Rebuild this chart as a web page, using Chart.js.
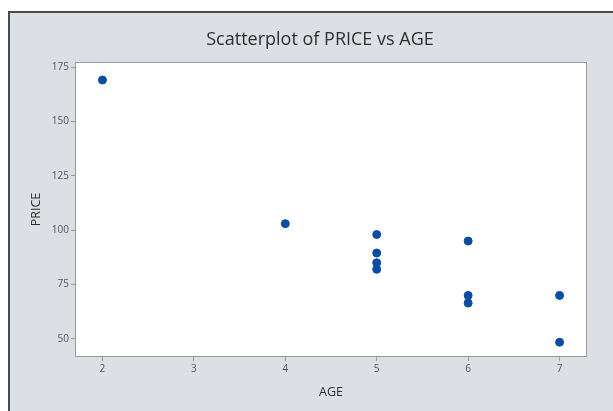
<!DOCTYPE html>
<html>
<head>
<meta charset="utf-8">
<script src="https://cdn.jsdelivr.net/npm/chart.js@4"></script>
<style>
  html, body { margin: 0; padding: 0; background: #fff; overflow: hidden; }
  #wrap { position: relative; width: 613px; height: 411px; overflow: hidden; }
  #frame {
    position: absolute; left: 8px; top: 11px; width: 700px; height: 500px;
    background: #dcdfe3; border: 2px solid #4a4a4a; box-sizing: border-box;
  }
  #chart { position: absolute; left: 0; top: 0; }
</style>
</head>
<body>
<div id="wrap">
  <div id="frame"></div>
  <canvas id="chart" width="613" height="411"></canvas>
</div>
<script>
const ages   = [2, 4, 5, 5, 5, 5, 6, 6, 6, 7, 7];
const prices = [169, 103, 98, 89.5, 85, 82, 95, 70, 66.5, 70, 48.5];

const xTicks = [2, 3, 4, 5, 6, 7];
const yTicks = [50, 75, 100, 125, 150, 175];

const chartTitle = "Scatterplot of PRICE vs AGE";

const points = ages.map((a, i) => ({ x: a, y: prices[i] }));

// white plot area with grey border + title text
const plotBox = {
  id: "plotBox",
  beforeDatasetsDraw(chart) {
    const { ctx, chartArea: a } = chart;
    ctx.save();
    ctx.fillStyle = "#ffffff";
    ctx.fillRect(a.left, a.top, a.right - a.left, a.bottom - a.top);
    ctx.restore();
  },
  afterDatasetsDraw(chart) {
    const { ctx, chartArea: a } = chart;
    ctx.save();
    ctx.strokeStyle = "#9a9a9a";
    ctx.lineWidth = 1;
    ctx.strokeRect(a.left + 0.5, a.top + 0.5, a.right - a.left - 1, a.bottom - a.top - 1);
    ctx.fillStyle = "#2e2e2e";
    ctx.font = "18px 'Open Sans'";
    ctx.textAlign = "center";
    ctx.textBaseline = "middle";
    ctx.fillText(chartTitle, 320, 40);
    ctx.restore();
  }
};

const tickFont = { family: "'Open Sans'", size: 10 };
const labelFont = { family: "'Open Sans'", size: 12.5 };

new Chart(document.getElementById("chart"), {
  type: "scatter",
  data: {
    datasets: [{
      label: "PRICE",
      data: points,
      backgroundColor: "#0c4da2",
      borderColor: "#0c4da2",
      pointRadius: 4,
      pointHoverRadius: 4,
    }],
  },
  options: {
    responsive: false,
    animation: false,
    layout: { padding: { left: 0, top: 62, right: 26, bottom: 0 } },
    plugins: {
      legend: { display: false },
      title: { display: false },
      tooltip: { enabled: false },
    },
    scales: {
      x: {
        type: "linear",
        min: 1.7, max: 7.3,
        afterBuildTicks: s => { s.ticks = xTicks.map(v => ({ value: v })); },
        afterFit: s => { s.height = 54; },
        grid: { drawOnChartArea: false, drawTicks: true, tickLength: 4, color: "#9a9a9a" },
        border: { display: false },
        ticks: { color: "#555", font: tickFont, padding: 2 },
        title: { display: true, text: "AGE", color: "#2e2e2e", font: labelFont, padding: { top: 0, bottom: 11 } },
      },
      y: {
        type: "linear",
        min: 41.7, max: 177.3,
        afterBuildTicks: s => { s.ticks = yTicks.map(v => ({ value: v })); },
        afterFit: s => { s.width = 75; },
        grid: { drawOnChartArea: false, drawTicks: true, tickLength: 4, color: "#9a9a9a" },
        border: { display: false },
        ticks: { color: "#555", font: tickFont, padding: 2 },
        title: { display: true, text: "PRICE", color: "#2e2e2e", font: labelFont, padding: { top: 29, bottom: 0 } },
      },
    },
  },
  plugins: [plotBox],
});
</script>
</body>
</html>
